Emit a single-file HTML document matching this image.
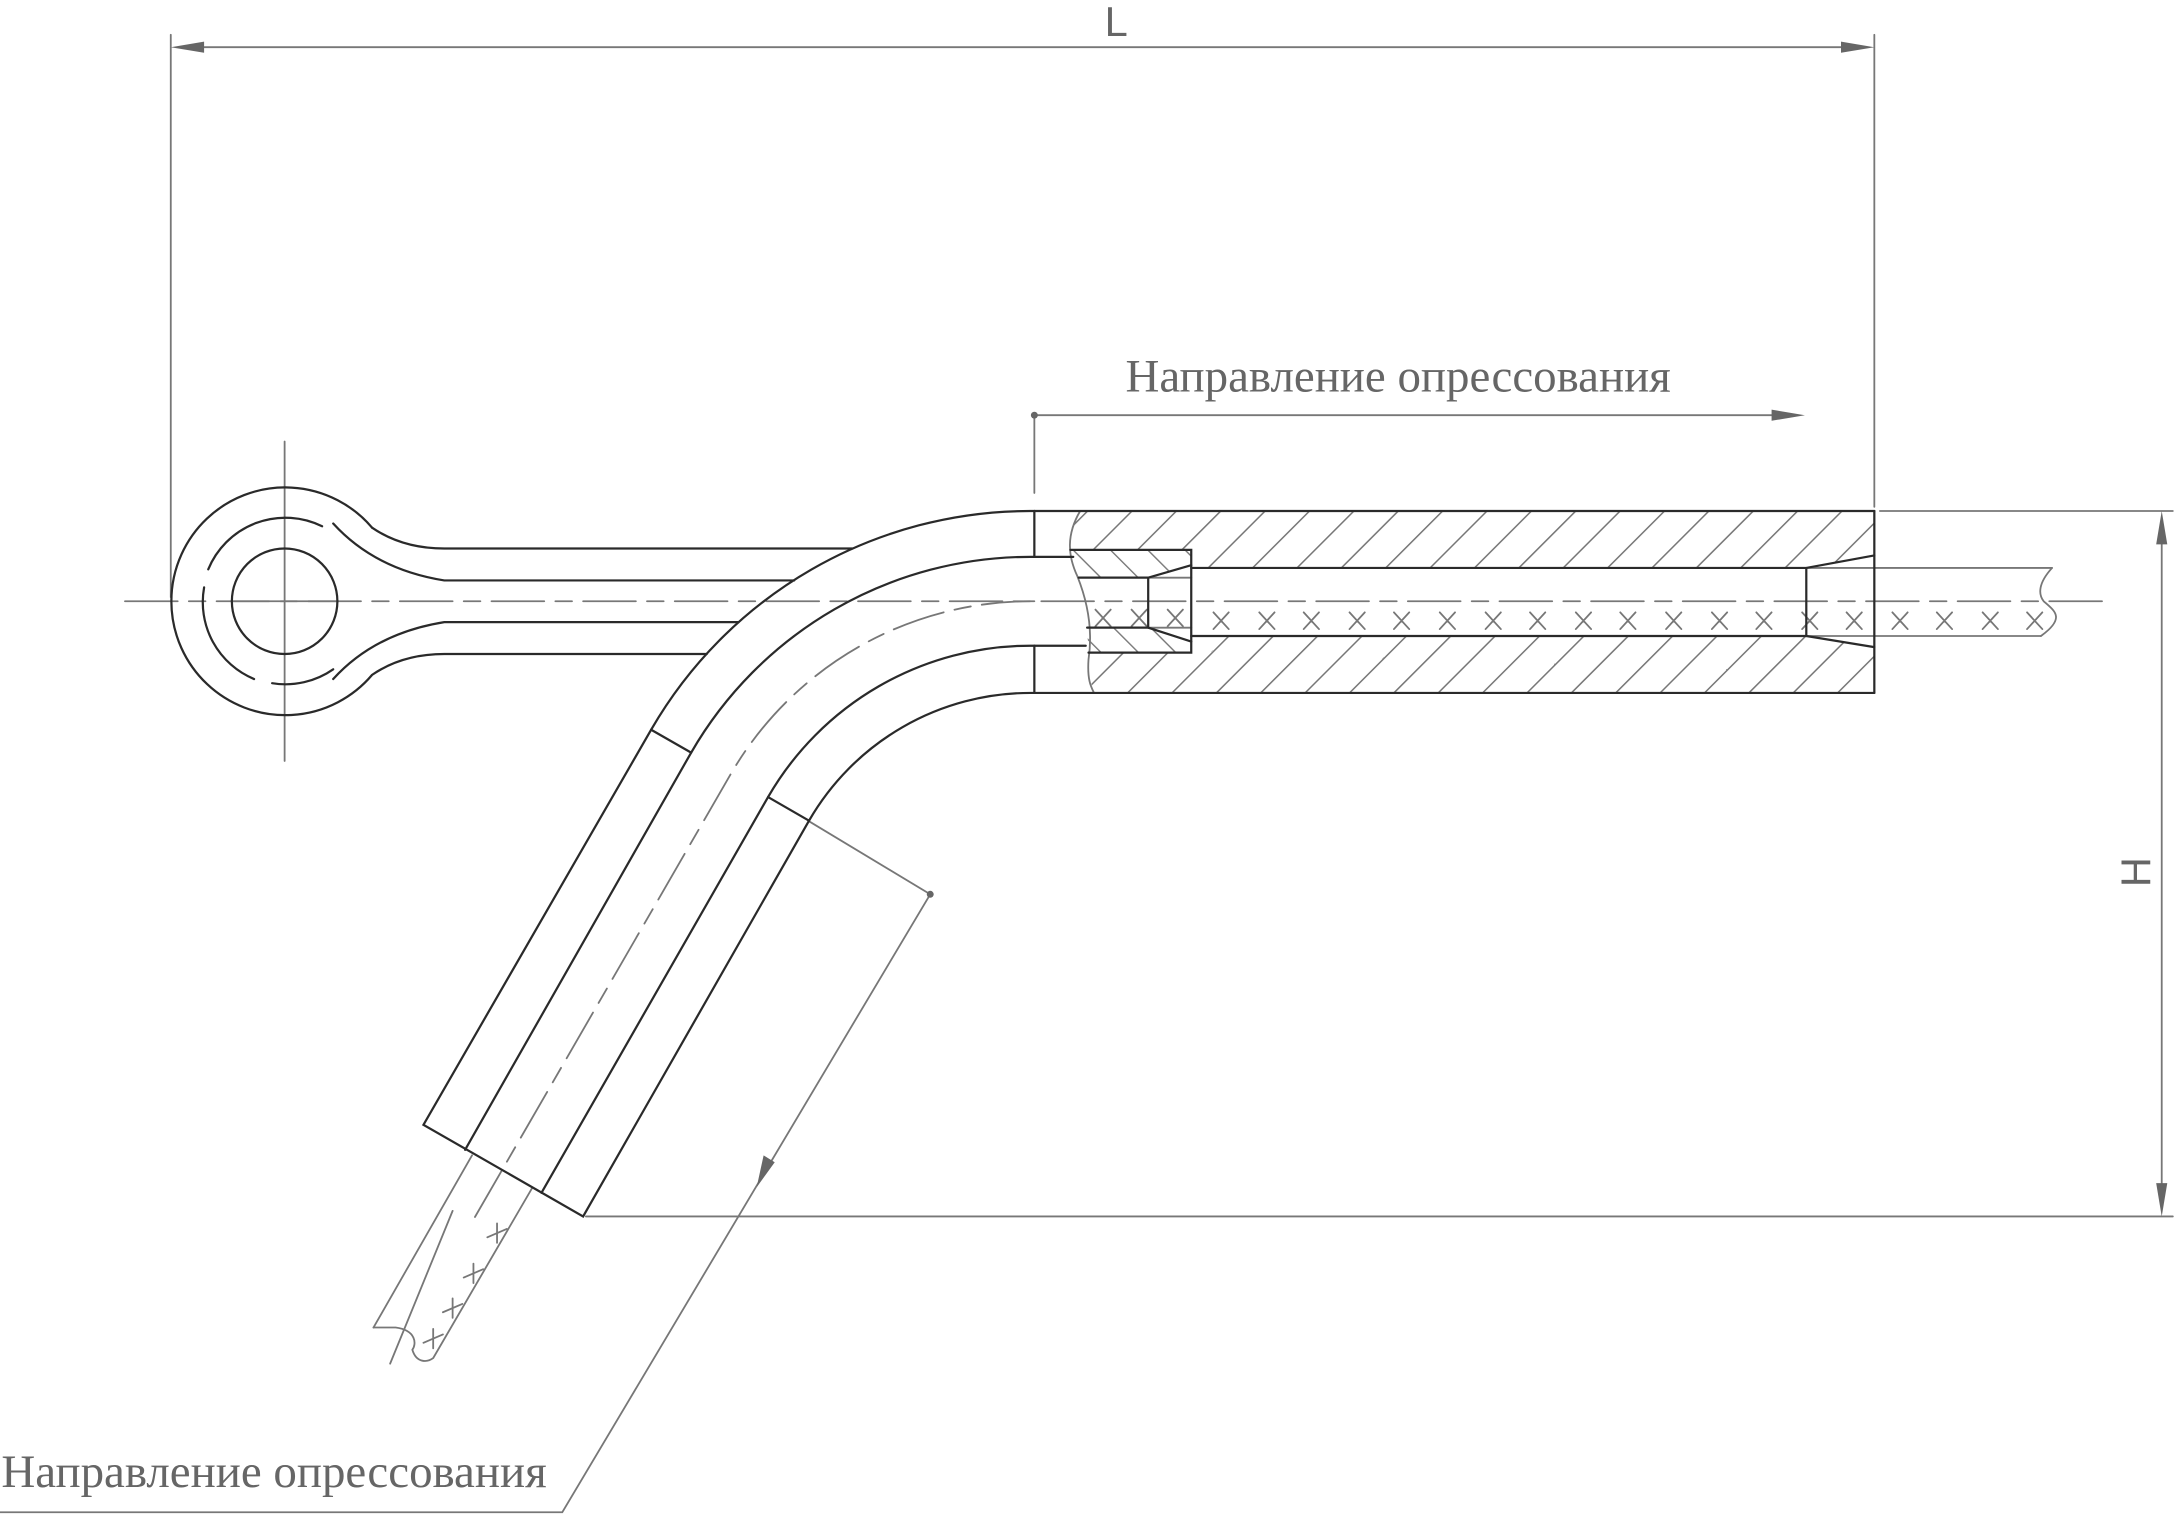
<!DOCTYPE html>
<html><head><meta charset="utf-8"><style>
html,body{margin:0;padding:0;background:#fff;}
svg{display:block;}
text{font-family:"Liberation Serif",serif;fill:#666;}
</style></head><body>
<svg width="2177" height="1515" viewBox="0 0 1568 1091" preserveAspectRatio="none" xmlns="http://www.w3.org/2000/svg">
<defs>
<pattern id="h1" width="22.6" height="22.6" patternUnits="userSpaceOnUse" patternTransform="rotate(45)">
<line x1="0" y1="0" x2="0" y2="22.6" stroke="#777" stroke-width="2.2"/></pattern>
<pattern id="h2" width="19" height="19" patternUnits="userSpaceOnUse" patternTransform="rotate(-45)">
<line x1="0" y1="0" x2="0" y2="19" stroke="#777" stroke-width="2"/></pattern>
</defs>
<rect width="1568" height="1091" fill="#fff"/>

<polygon points="778,368 1350,368 1350,400 1301,409 858,409 858,396 771,396 772,380" fill="url(#h1)"/>
<polygon points="784,470 858,470 858,458 1301,458 1350,466 1350,499 788,499 784,485" fill="url(#h1)"/>
<polygon points="771,396 858,396 858,407 827,416 776,416" fill="url(#h2)"/>
<polygon points="783,452 827,452 858,462 858,470 784,470" fill="url(#h2)"/>

<g fill="none" stroke-linecap="round">
<g stroke="#777" stroke-width="1.3">
<line x1="123" y1="25" x2="123" y2="430"/>
<line x1="1350" y1="25" x2="1350" y2="365"/>
<line x1="130" y1="34" x2="1343" y2="34"/>
<line x1="1354" y1="368" x2="1565" y2="368"/>
<line x1="422" y1="876" x2="1565" y2="876"/>
<line x1="1557" y1="375" x2="1557" y2="869"/>
<line x1="745" y1="299" x2="745" y2="355"/>
<line x1="745" y1="299" x2="1290" y2="299"/>
<polyline points="582,591 670,644 405,1089 0,1089"/>
<line x1="205" y1="318" x2="205" y2="548"/>
<line x1="166" y1="433" x2="244" y2="433"/>
<line x1="90" y1="433" x2="1515" y2="433" stroke-dasharray="38,8,12,8"/>
<path d="M745,433 A249.5,249.5 0 0 0 526,558 L340,880" stroke-dasharray="38,8,12,8"/>
<line x1="340" y1="832" x2="269" y2="956"/>
<path d="M269,956 L285,956 C300,958 300,968 297,972 C300,982 308,981 312,978 L383,856"/>
<line x1="326" y1="872" x2="281" y2="982"/>
<line x1="1301" y1="409" x2="1478" y2="409"/>
<line x1="1301" y1="458" x2="1470" y2="458"/>
<path d="M1478,409 C1468,420 1468,428 1472,433 C1480,440 1488,445 1470,458"/>
<line x1="827" y1="416" x2="858" y2="416"/>
<line x1="827" y1="452" x2="858" y2="452"/>
<path d="M778,368 C768,385 769,400 776,415 C784,435 787,455 784,475 C783,490 786,495 788,499"/>
<path d="M789,439 l11,12 M800,439 l-11,12 M815,439 l11,12 M826,439 l-11,12 M841,439 l11,12 M852,439 l-11,12
M874,441 l11,12 M885,441 l-11,12 M907,441 l11,12 M918,441 l-11,12 M939,441 l11,12 M950,441 l-11,12
M972,441 l11,12 M983,441 l-11,12 M1004,441 l11,12 M1015,441 l-11,12 M1037,441 l11,12 M1048,441 l-11,12
M1070,441 l11,12 M1081,441 l-11,12 M1102,441 l11,12 M1113,441 l-11,12 M1135,441 l11,12 M1146,441 l-11,12
M1167,441 l11,12 M1178,441 l-11,12 M1200,441 l11,12 M1211,441 l-11,12 M1233,441 l11,12 M1244,441 l-11,12
M1265,441 l11,12 M1276,441 l-11,12 M1298,441 l11,12 M1309,441 l-11,12 M1330,441 l11,12 M1341,441 l-11,12
M1363,441 l11,12 M1374,441 l-11,12 M1395,441 l11,12 M1406,441 l-11,12 M1428,441 l11,12 M1439,441 l-11,12
M1460,441 l11,12 M1471,441 l-11,12"/>
<path d="M351,891 l14,-6 M358,881 l0,14 M334,920 l14,-6 M341,910 l0,14 M319,945 l14,-6 M326,935 l0,14 M305,967 l14,-6 M312,957 l0,14"/>
</g>

<g stroke="#2a2a2a" stroke-width="1.6">
<path d="M268,380 A82,82 0 1 0 268,486 Q290,471 320,471 L509,471"/>
<path d="M268,380 Q290,395 320,395 L614,395"/>
<circle cx="205" cy="433" r="38"/>
<path d="M232,379 A60,60 0 0 0 150,410"/>
<path d="M147,423 A60,60 0 0 0 183,489"/>
<path d="M196,492 A60,60 0 0 0 240,482"/>
<path d="M240,377 Q270,410 320,418 L572,418"/>
<path d="M240,489 Q270,456 320,448 L532,448"/>
<path d="M745,368 L742,368 A315,315 0 0 0 469,525.5 L305,810 L420,876 L582.7,591 A184,184 0 0 1 742,499 L745,499"/>
<path d="M745,401 L742,401 A282,282 0 0 0 497.8,542 L335,828"/>
<path d="M745,465 L742,465 A218,218 0 0 0 553.2,574 L390,859"/>
<line x1="469" y1="525.5" x2="497.8" y2="542"/>
<line x1="553.2" y1="574" x2="582.7" y2="591"/>
<line x1="745" y1="368" x2="1350" y2="368"/>
<line x1="745" y1="499" x2="1350" y2="499"/>
<line x1="1350" y1="368" x2="1350" y2="499"/>
<line x1="745" y1="368" x2="745" y2="401"/>
<line x1="745" y1="465" x2="745" y2="499"/>
<line x1="745" y1="401" x2="773" y2="401"/>
<line x1="745" y1="465" x2="782" y2="465"/>
<polyline points="771,396 858,396 858,470 784,470"/>
<polyline points="777,416 827,416 858,407"/>
<polyline points="783,452 827,452 858,462"/>
<line x1="827" y1="416" x2="827" y2="452"/>
<polyline points="858,409 1301,409 1350,400"/>
<polyline points="858,458 1301,458 1350,466"/>
<line x1="1301" y1="409" x2="1301" y2="458"/>
</g>
</g>

<g fill="#666">
<polygon points="123,34 147,30 147,38"/>
<polygon points="1350,34 1326,30 1326,38"/>
<polygon points="1557,368 1553,392 1561,392"/>
<polygon points="1557,876 1553,852 1561,852"/>
<polygon points="1300,299 1276,295 1276,303"/>
<polygon points="545,855 550,832 558,837"/>
<circle cx="745" cy="299" r="2.5"/>
<circle cx="670" cy="644" r="2.5"/>
</g>

<text x="1007" y="282" font-size="33.8" text-anchor="middle">Направление опрессования</text>
<text x="1" y="1071" font-size="33.8">Направление опрессования</text>
<text x="804" y="26" font-size="30" text-anchor="middle" style="font-family:'Liberation Sans',sans-serif">L</text>
<text x="0" y="0" font-size="30" text-anchor="middle" transform="translate(1549,628) rotate(-90)" style="font-family:'Liberation Sans',sans-serif">H</text>
</svg>
</body></html>
